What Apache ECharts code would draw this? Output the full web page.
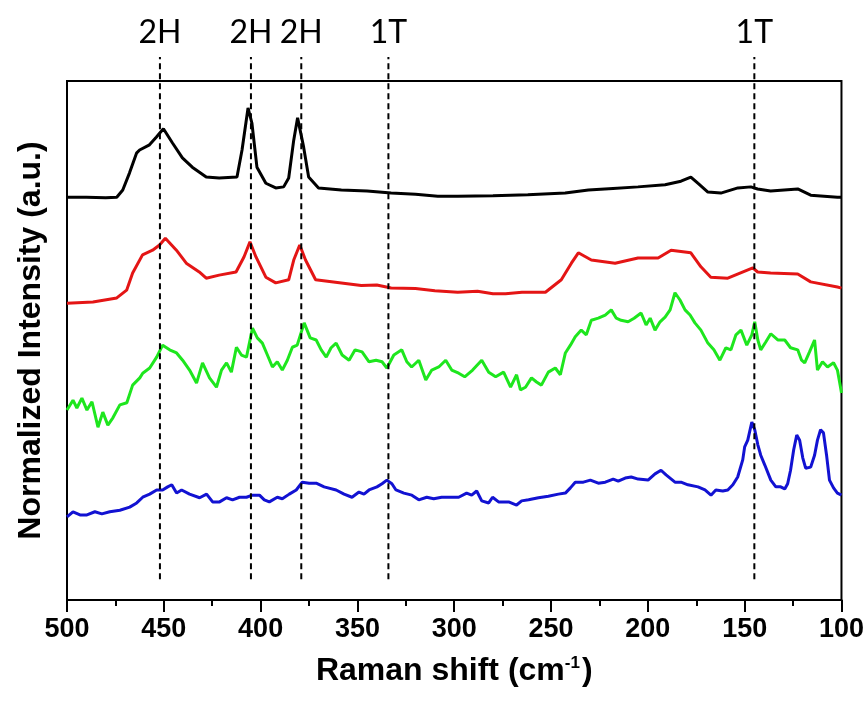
<!DOCTYPE html>
<html>
<head>
<meta charset="utf-8">
<title>Raman spectra</title>
<script src="https://cdn.jsdelivr.net/npm/echarts@6.0.0/dist/echarts.min.js"></script>
<style>
  html, body { margin: 0; padding: 0; background: #fff; }
  #chart { width: 867px; height: 705px; }
</style>
</head>
<body>
<div id="chart"></div>
<script>
// Raman shift (cm-1), normalized intensity (a.u., curves stacked with offsets)
const blackSpectrum = [
  [500, 77.6], [490, 77.6], [480, 77.5], [474.3, 77.6], [471.2, 79.0], [467.7, 82.3],
  [464.1, 86.1], [462.5, 86.7], [457.4, 87.7], [453.8, 89.2], [450.2, 90.8], [445.6, 88.1],
  [440.4, 85.2], [435.3, 83.4], [428.1, 81.5], [421.4, 81.3], [412.2, 81.5], [409.6, 86.7],
  [406.5, 94.8], [404.5, 91.9], [401.9, 83.4], [397.3, 80.3], [392.2, 79.4], [388.1, 79.6],
  [385.5, 81.3], [382.9, 88.6], [380.9, 92.9], [377.8, 87.3], [375.2, 81.5], [370.1, 79.4],
  [358.3, 79.0], [345, 78.8], [332.6, 78.4], [320, 78.2], [308.5, 77.8], [298.2, 77.8],
  [280, 77.9], [262, 78.1], [242.7, 78.4], [230.7, 79.0], [218, 79.3], [205.1, 79.6],
  [191.1, 80.0], [182.9, 80.7], [177.8, 81.5], [174.2, 80.3], [169.0, 78.6], [162.3, 78.4],
  [153.5, 79.4], [146.8, 79.6], [143.3, 79.2], [136.6, 78.8], [122.6, 79.2], [115.9, 78.0],
  [102.1, 77.6], [100, 77.6]
];

const redSpectrum = [
  [500, 57.2], [486.6, 57.4], [474.3, 58.2], [469.2, 59.7], [466.1, 63.0], [461.0, 66.5],
  [455.8, 67.4], [452.2, 68.4], [449.2, 69.7], [443.5, 67.4], [438.4, 64.9], [431.7, 63.2],
  [428.1, 62.0], [421.4, 62.6], [412.7, 63.2], [408.6, 66.1], [405.5, 69.0], [402.4, 66.1],
  [397.3, 62.2], [392.2, 61.1], [385.5, 61.7], [382.9, 65.5], [379.8, 68.4], [376.8, 65.5],
  [371.6, 61.7], [358.3, 61.1], [348, 60.6], [340, 60.7], [332.6, 60.1], [320, 60.0],
  [310, 59.6], [298.2, 59.3], [288, 59.5], [280, 59.0], [273.5, 59.0], [265, 59.3],
  [252.9, 59.3], [244.7, 61.7], [239.5, 64.9], [235.9, 66.9], [229.2, 65.5], [216.9, 64.9],
  [205.1, 65.9], [194.7, 65.9], [188.0, 67.4], [177.8, 66.9], [172.6, 64.2], [167.5, 62.2],
  [158.7, 62.0], [145.8, 64.0], [143.3, 63.2], [136.6, 63.0], [122.6, 62.8], [115.9, 61.3],
  [102.1, 60.3], [100, 60.1]
];

const greenSpectrum = [
  [500, 36.6], [496.9, 38.5], [494.9, 37.0], [492.3, 38.9], [489.7, 36.6], [487.1, 38.2],
  [484.0, 33.3], [481.5, 36.2], [478.9, 33.7], [476.3, 35.1], [472.7, 37.6], [469.1, 38.0],
  [466.1, 41.4], [462.4, 42.8], [460.9, 43.7], [457.3, 44.7], [453.7, 46.8], [450.6, 49.1],
  [447.0, 48.2], [443.4, 47.6], [440.3, 46.2], [436.7, 44.3], [433.1, 41.8], [430.0, 45.7],
  [426.4, 42.8], [422.8, 41.0], [420.2, 44.3], [417.6, 45.7], [415.1, 43.9], [412.5, 48.7],
  [409.9, 47.2], [407.3, 46.8], [404.2, 52.4], [401.7, 50.5], [399.1, 49.5], [396.5, 47.2],
  [393.9, 44.9], [391.4, 45.9], [388.8, 44.3], [386.2, 46.2], [383.6, 48.7], [381.1, 49.1],
  [377.5, 53.4], [374.4, 50.5], [371.3, 50.1], [368.7, 48.2], [366.1, 46.8], [363.6, 48.6],
  [361.0, 49.5], [357.9, 47.2], [354.3, 46.2], [351.2, 48.2], [347.6, 47.8], [344.0, 45.9],
  [340.4, 46.2], [337.3, 45.9], [334.8, 44.7], [331.2, 47.2], [327.1, 48.2], [324.5, 45.9],
  [322.0, 44.9], [318.3, 46.2], [314.7, 42.4], [311.6, 44.3], [308.0, 44.9], [304.4, 46.2],
  [301.3, 44.3], [297.7, 43.7], [294.6, 43.0], [290.5, 44.3], [285.8, 46.2], [282.2, 43.9],
  [278.6, 43.0], [274.5, 43.9], [270.9, 41.0], [267.8, 43.4], [265.8, 40.5], [263.2, 41.0],
  [260.1, 42.8], [257.5, 42.0], [255.0, 41.4], [251.4, 43.9], [247.8, 44.7], [245.2, 43.4],
  [242.6, 47.6], [240.0, 49.1], [237.5, 50.7], [234.4, 52.0], [231.8, 51.1], [229.2, 53.9],
  [225.6, 54.3], [222.0, 54.9], [218.9, 55.9], [216.3, 54.3], [213.8, 53.9], [210.2, 53.6],
  [207.1, 54.3], [203.5, 55.3], [200.9, 53.0], [198.8, 54.3], [196.3, 52.0], [193.7, 53.6],
  [191.1, 54.5], [188.5, 55.9], [186.0, 59.2], [183.4, 57.8], [180.8, 55.9], [178.2, 54.9],
  [175.7, 53.4], [172.6, 52.0], [169.0, 49.5], [165.9, 48.2], [162.8, 46.2], [159.7, 48.6],
  [157.1, 48.2], [154.5, 51.1], [151.9, 52.0], [148.9, 49.1], [146.3, 51.1], [144.8, 53.6],
  [143.2, 50.1], [141.7, 48.2], [139.1, 49.7], [136.5, 51.3], [132.9, 50.1], [129.3, 50.1],
  [126.3, 48.6], [122.6, 48.2], [120.6, 46.2], [119.0, 45.7], [116.5, 47.8], [113.9, 50.1],
  [112.4, 44.3], [109.8, 45.9], [107.2, 44.9], [104.1, 45.7], [102.1, 44.3], [100.5, 41.0],
  [100, 39.9]
];

const blueSpectrum = [
  [500, 16.0], [496.9, 17.0], [493.3, 16.4], [489.7, 16.4], [485.6, 17.0], [482.0, 16.6],
  [477.9, 17.0], [472.7, 17.3], [467.6, 17.9], [464.0, 18.7], [460.9, 19.8], [457.3, 20.4],
  [453.7, 21.2], [450.6, 21.2], [448.0, 21.8], [445.9, 22.2], [443.4, 20.6], [440.8, 21.2],
  [436.7, 20.4], [431.5, 19.7], [427.9, 20.4], [424.8, 18.9], [421.2, 18.9], [417.6, 19.7],
  [414.5, 19.3], [410.9, 19.8], [407.3, 19.8], [404.2, 20.2], [400.6, 20.2], [398.1, 19.3],
  [395.5, 18.9], [391.4, 19.8], [388.8, 19.5], [385.2, 20.4], [381.6, 21.2], [378.5, 22.7],
  [374.9, 22.5], [371.3, 22.5], [367.2, 21.8], [361.0, 21.2], [356.9, 20.4], [352.8, 19.8],
  [349.2, 20.8], [346.6, 20.4], [344.0, 21.2], [339.9, 21.8], [337.3, 22.4], [334.8, 23.1],
  [332.2, 22.4], [330.1, 21.2], [326.0, 20.6], [321.9, 20.2], [318.3, 19.3], [314.2, 19.8],
  [310.6, 19.5], [306.5, 19.8], [297.7, 19.8], [293.6, 20.6], [291.0, 20.2], [288.4, 21.0],
  [285.8, 19.1], [282.2, 18.7], [280.2, 19.8], [277.1, 18.9], [271.9, 18.9], [267.8, 18.3],
  [265.2, 19.1], [261.6, 19.3], [256.5, 19.7], [251.4, 20.0], [246.2, 20.4], [242.6, 20.6],
  [240.0, 21.6], [237.5, 22.7], [233.3, 22.7], [229.7, 23.1], [225.6, 22.5], [222.0, 22.7],
  [217.9, 23.3], [215.3, 22.9], [211.7, 23.5], [208.6, 23.7], [205.0, 23.3], [199.9, 23.1],
  [196.3, 24.3], [193.2, 25.0], [190.6, 24.1], [186.0, 22.7], [182.9, 22.7], [179.3, 22.2],
  [174.1, 21.8], [170.5, 21.2], [167.4, 20.2], [164.9, 21.2], [161.3, 21.0], [158.7, 21.2],
  [156.1, 22.2], [153.6, 23.7], [151.0, 27.0], [150.0, 29.5], [148.4, 30.8], [146.3, 34.3],
  [144.8, 32.8], [143.2, 29.9], [141.7, 27.9], [139.6, 26.0], [136.5, 23.1], [133.9, 21.8],
  [131.4, 21.8], [129.3, 21.4], [127.8, 22.4], [126.3, 25.0], [124.7, 28.9], [123.1, 31.8],
  [121.6, 30.8], [120.0, 27.4], [118.5, 25.4], [115.9, 25.6], [113.9, 27.9], [112.4, 30.8],
  [110.8, 32.8], [109.3, 32.2], [107.7, 27.9], [106.2, 23.1], [104.1, 21.6], [102.1, 20.6],
  [100, 20.2]
];

// phase markers (dashed lines)
const markerShifts = [452, 405, 379, 334, 145];
const markerLabels = ['2H', '2H', '2H', '1T', '1T'];
const markerBottom = 4;
const markerTop = 100;

const xTicks = { min: 100, max: 500, interval: 50 };

var chartDom = document.getElementById('chart');
var myChart = echarts.init(chartDom);
var option;

function spectrum(name, data, color) {
  return {
    name: name,
    type: 'line',
    data: data,
    showSymbol: false,
    smooth: false,
    lineStyle: { color: color, width: 3 },
    itemStyle: { color: color },
    z: 2
  };
}

option = {
  animation: false,
  grid: {
    left: 67,
    right: 23,
    top: 81,
    bottom: 105,
    show: true,
    borderColor: '#000',
    borderWidth: 2
  },
  xAxis: {
    type: 'value',
    min: xTicks.min,
    max: xTicks.max,
    interval: xTicks.interval,
    inverse: true,
    name: 'Raman shift (cm{sup|-1})',
    nameLocation: 'middle',
    nameGap: 55,
    nameTextStyle: {
      fontFamily: 'Arial, "Liberation Sans", sans-serif',
      fontWeight: 'bold',
      fontSize: 32,
      color: '#000',
      rich: {
        sup: {
          fontFamily: 'Arial, "Liberation Sans", sans-serif',
          fontWeight: 'bold',
          fontSize: 17,
          color: '#000',
          verticalAlign: 'top',
          padding: [0, 2, 14, 0]
        }
      }
    },
    axisLine: { show: true, lineStyle: { color: '#000', width: 2 } },
    axisTick: { show: true, inside: false, length: 12, lineStyle: { color: '#000', width: 2 } },
    minorTick: { show: true, splitNumber: 2, length: 6, lineStyle: { color: '#000', width: 2 } },
    axisLabel: {
      margin: 16,
      fontFamily: 'Arial, "Liberation Sans", sans-serif',
      fontWeight: 'bold',
      fontSize: 27,
      color: '#000'
    },
    splitLine: { show: false }
  },
  yAxis: {
    type: 'value',
    min: 0,
    max: 100,
    name: 'Normalized Intensity (a.u.)',
    nameLocation: 'middle',
    nameGap: 20,
    nameTextStyle: {
      fontFamily: 'Arial, "Liberation Sans", sans-serif',
      fontWeight: 'bold',
      fontSize: 32,
      color: '#000'
    },
    axisLine: { show: true, lineStyle: { color: '#000', width: 2 } },
    axisTick: { show: false },
    axisLabel: { show: false },
    splitLine: { show: false }
  },
  series: [
    spectrum('black', blackSpectrum, '#000000'),
    spectrum('red', redSpectrum, '#e41515'),
    spectrum('green', greenSpectrum, '#1ee61e'),
    spectrum('blue', blueSpectrum, '#1212d2'),
    {
      name: 'markers',
      type: 'custom',
      clip: false,
      z: 3,
      data: markerShifts.map(function (v) { return [v, markerTop]; }),
      renderItem: function (params, api) {
        var shift = api.value(0);
        var top = api.coord([shift, markerTop]);
        var bot = api.coord([shift, markerBottom]);
        return {
          type: 'group',
          children: [
            {
              type: 'line',
              shape: { x1: bot[0], y1: bot[1], x2: top[0], y2: top[1] - 24 },
              style: { stroke: '#000', lineWidth: 2, lineDash: [6, 4] }
            },
            {
              type: 'text',
              style: {
                text: markerLabels[params.dataIndex],
                x: top[0],
                y: top[1] - 48,
                align: 'center',
                verticalAlign: 'middle',
                fontSize: 32,
                fontFamily: 'Lato, "Open Sans", sans-serif',
                fill: '#000'
              }
            }
          ]
        };
      }
    }
  ]
};

option && myChart.setOption(option);
</script>
</body>
</html>
